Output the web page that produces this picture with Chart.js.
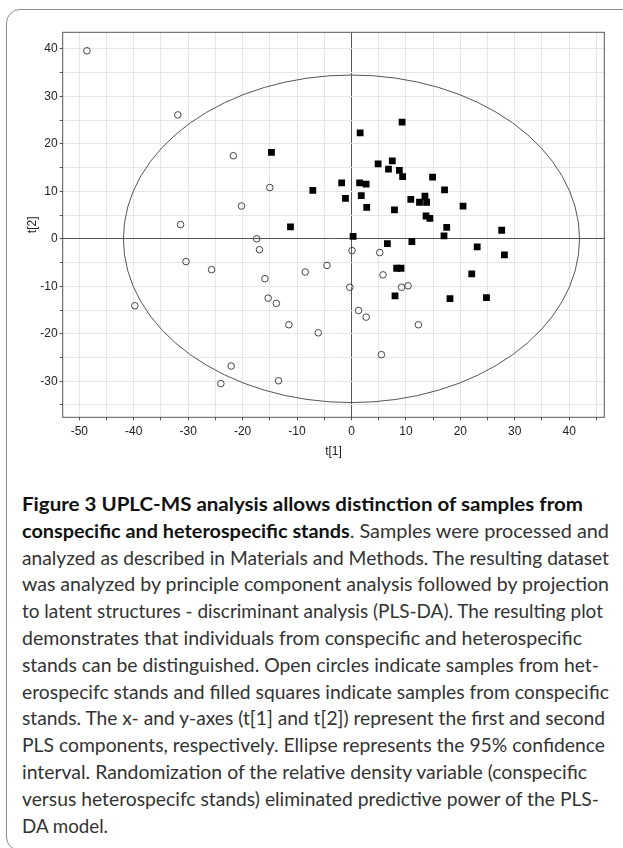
<!DOCTYPE html>
<html>
<head>
<meta charset="utf-8">
<script src="https://cdn.jsdelivr.net/npm/chart.js@4.4.1/dist/chart.umd.min.js"></script>
<style>
  html, body { margin: 0; padding: 0; background: #fff; }
  body { width: 623px; height: 848px; position: relative; overflow: hidden; }
  #frame {
    position: absolute; left: 6px; top: 9px; width: 640px; height: 842px;
    border: 1px solid #8c8c8c; border-radius: 14px; box-sizing: border-box;
  }
  #plot { position: absolute; left: 0; top: 0; }
  #caption {
    position: absolute; left: 22px; top: 490px;
    font-family: Lato, "Open Sans", sans-serif; font-size: 19.8px; line-height: 26.8px;
    color: #333;
  }
  #caption div { white-space: nowrap; width: max-content; transform-origin: 0 50%; }
  #caption b { color: #111; }
</style>
</head>
<body>
<div id="frame"></div>
<canvas id="plot" width="623" height="470"></canvas>
<div id="caption">
  <div><b>Figure 3 UPLC-MS analysis allows distinction of samples from</b></div>
  <div><b>conspecific and heterospecific stands</b>. Samples were processed and</div>
  <div>analyzed as described in Materials and Methods. The resulting dataset</div>
  <div>was analyzed by principle component analysis followed by projection</div>
  <div>to latent structures - discriminant analysis (PLS-DA). The resulting plot</div>
  <div>demonstrates that individuals from conspecific and heterospecific</div>
  <div>stands can be distinguished. Open circles indicate samples from het-</div>
  <div>erospecifc stands and filled squares indicate samples from conspecific</div>
  <div>stands. The x- and y-axes (t[1] and t[2]) represent the first and second</div>
  <div>PLS components, respectively. Ellipse represents the 95% confidence</div>
  <div>interval. Randomization of the relative density variable (conspecific</div>
  <div>versus heterospecifc stands) eliminated predictive power of the PLS-</div>
  <div>DA model.</div>
</div>
<script>
// heterospecific stands (open circles): t[1], t[2]
const heteroX = [-48.6, -31.9, -21.7, -15.0, -20.2, -31.4, -17.4, -16.9, -30.4, -25.7,
                 -15.9, -8.5, -4.5, -15.3, -13.8, -11.5, -6.1, -39.8, -22.1, -24.0,
                 -13.4, 0.1, 5.2, 5.8, -0.3, 9.2, 10.4, 1.3, 2.7, 12.3, 5.5];
const heteroY = [39.6, 26.1, 17.5, 10.8, 6.9, 3.0, 0.0, -2.3, -4.8, -6.5,
                 -8.4, -7.0, -5.6, -12.5, -13.6, -18.1, -19.8, -14.1, -26.8, -30.5,
                 -29.9, -2.5, -2.9, -7.6, -10.2, -10.2, -9.9, -15.1, -16.5, -18.1, -24.4];

// conspecific stands (filled squares)
const conX = [9.3, 1.6, -14.7, 7.5, 4.9, 6.8, 8.8, 9.4, 14.9, -1.8,
              1.5, 2.7, -7.1, 17.1, -1.1, 1.8, 2.8, 10.9, 13.5, 12.5,
              13.8, 20.5, 7.9, 13.7, 14.4, -11.2, 17.5, 27.6, 17.0, 0.3,
              6.6, 11.1, 23.1, 28.1, 8.3, 9.1, 22.1, 8.0, 18.1, 24.8];
const conY = [24.6, 22.3, 18.2, 16.4, 15.8, 14.7, 14.4, 13.1, 13.0, 11.8,
              11.8, 11.5, 10.2, 10.3, 8.5, 9.1, 6.6, 8.3, 9.0, 7.7,
              7.7, 6.9, 6.1, 4.8, 4.3, 2.5, 2.4, 1.8, 0.6, 0.5,
              -1.0, -0.6, -1.7, -3.4, -6.2, -6.2, -7.4, -12.0, -12.6, -12.4];

// axes
const xTicks = [-50, -45, -40, -35, -30, -25, -20, -15, -10, -5, 0, 5, 10, 15, 20, 25, 30, 35, 40, 45];
const yTicks = [-35, -30, -25, -20, -15, -10, -5, 0, 5, 10, 15, 20, 25, 30, 35, 40];
const xRange = [-53.05, 46.45];
const yRange = [-37.6, 43.5];

// 95% confidence ellipse
const ellipseCenter = [0, 0];
const ellipseRadii = [41.9, 34.5];

// caption: width each line takes in the original layout (px)
const captionLineWidths = [561, 587, 587, 587, 581, 560, 577, 587, 583, 583, 565, 577, 86];
document.querySelectorAll('#caption div').forEach((line, i) => {
    const w = line.getBoundingClientRect().width;
    line.style.transform = `scaleX(${captionLineWidths[i] / w})`;
});

const toPoints = (xs, ys) => xs.map((x, i) => ({ x: x, y: ys[i] }));

const frameAndEllipse = {
    id: 'frameAndEllipse',
    beforeDatasetsDraw(chart) {
        const { ctx, chartArea, scales } = chart;
        const cx = scales.x.getPixelForValue(ellipseCenter[0]);
        const cy = scales.y.getPixelForValue(ellipseCenter[1]);
        const rx = Math.abs(scales.x.getPixelForValue(ellipseCenter[0] + ellipseRadii[0]) - cx);
        const ry = Math.abs(scales.y.getPixelForValue(ellipseCenter[1] + ellipseRadii[1]) - cy);
        ctx.save();
        ctx.beginPath();
        ctx.rect(chartArea.left, chartArea.top, chartArea.width, chartArea.height);
        ctx.clip();
        ctx.beginPath();
        ctx.ellipse(cx, cy, rx, ry, 0, 0, Math.PI * 2);
        ctx.strokeStyle = '#555';
        ctx.lineWidth = 1;
        ctx.stroke();
        ctx.restore();
    },
    afterDraw(chart) {
        const { ctx, chartArea } = chart;
        ctx.save();
        ctx.strokeStyle = '#555';
        ctx.lineWidth = 1;
        ctx.strokeRect(chartArea.left, chartArea.top, chartArea.width, chartArea.height);
        ctx.restore();
    }
};

const gridColor = (c) => c.tick && c.tick.value === 0 ? '#555' : '#e6e6e6';
const tickFont = { family: 'Liberation Sans, Arial, sans-serif', size: 12 };

new Chart(document.getElementById('plot'), {
    type: 'scatter',
    data: {
        datasets: [
            {
                label: 'heterospecific',
                data: toPoints(heteroX, heteroY),
                pointStyle: 'circle',
                pointRadius: 3.3,
                pointBorderWidth: 1,
                borderColor: '#444',
                backgroundColor: 'rgba(255,255,255,0)'
            },
            {
                label: 'conspecific',
                data: toPoints(conX, conY),
                pointStyle: 'rect',
                pointRadius: 4.8,
                pointBorderWidth: 0,
                borderColor: '#000',
                backgroundColor: '#000'
            }
        ]
    },
    options: {
        responsive: false,
        animation: false,
        layout: { padding: { left: 0, right: 18.7, top: 32.3, bottom: 0 } },
        plugins: {
            legend: { display: false },
            tooltip: { enabled: false }
        },
        scales: {
            x: {
                type: 'linear',
                min: xRange[0],
                max: xRange[1],
                afterBuildTicks: (scale) => { scale.ticks = xTicks.map(v => ({ value: v })); },
                afterFit: (scale) => { scale.height = 52.7; },
                grid: { color: gridColor, tickColor: '#555', tickLength: 3, lineWidth: 1 },
                border: { display: false },
                ticks: {
                    autoSkip: false,
                    maxRotation: 0,
                    padding: 4,
                    color: '#222',
                    font: tickFont,
                    callback: (v) => v % 10 === 0 ? String(v) : ''
                },
                title: { display: true, text: 't[1]', color: '#222', font: tickFont, padding: { top: 0, bottom: 10.8 } }
            },
            y: {
                type: 'linear',
                min: yRange[0],
                max: yRange[1],
                afterBuildTicks: (scale) => { scale.ticks = yTicks.map(v => ({ value: v })); },
                afterFit: (scale) => { scale.width = 62.7; },
                grid: { color: gridColor, tickColor: '#555', tickLength: 3, lineWidth: 1 },
                border: { display: false },
                ticks: {
                    autoSkip: false,
                    padding: 2,
                    color: '#222',
                    font: tickFont,
                    callback: (v) => v % 10 === 0 ? String(v) : ''
                },
                title: { display: true, text: 't[2]', color: '#222', font: tickFont, padding: { top: 25.8, bottom: 0 } }
            }
        }
    },
    plugins: [frameAndEllipse]
});
</script>
</body>
</html>
